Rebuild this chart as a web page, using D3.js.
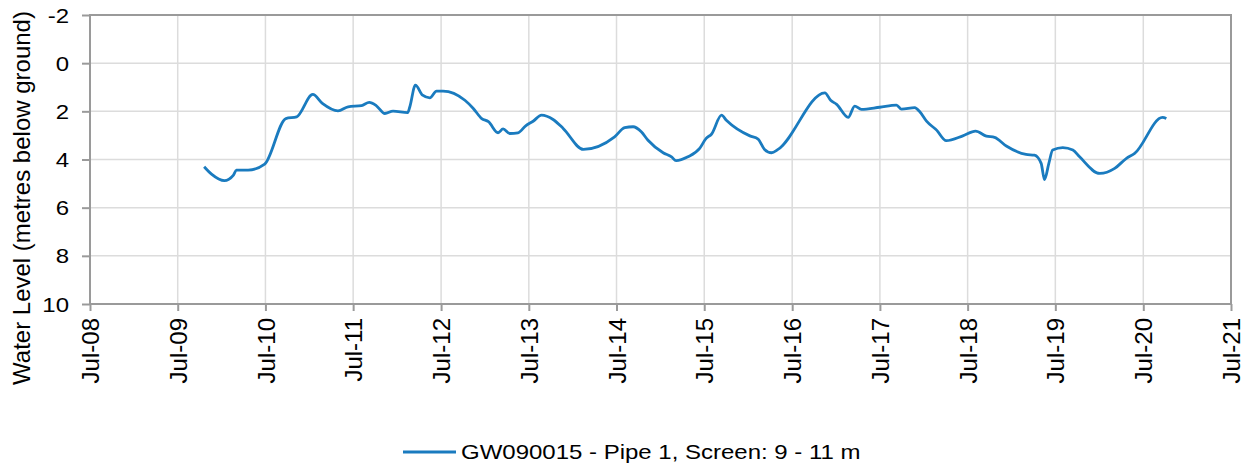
<!DOCTYPE html>
<html>
<head>
<meta charset="utf-8">
<script src="https://cdn.jsdelivr.net/npm/d3@7"></script>
<style>
  body { margin: 0; background: #fff; }
  text { font-family: "Liberation Sans", Arial, sans-serif; fill: #000; }
</style>
</head>
<body>
<div id="chart"></div>
<script>
// readings (date, metres below ground)
var dates = [
  "2009-10-19","2009-11-20","2010-01-11","2010-02-18","2010-03-02","2010-04-20","2010-06-28",
  "2010-09-24","2010-11-08","2011-01-14","2011-02-23","2011-04-29","2011-06-10","2011-08-05",
  "2011-09-06","2011-10-06","2011-11-10","2011-12-14","2012-02-13","2012-02-22","2012-03-16",
  "2012-04-15","2012-05-15","2012-06-12","2012-07-09","2012-10-08","2012-11-12","2012-12-17",
  "2013-01-14","2013-02-23","2013-03-16","2013-04-13","2013-05-17","2013-06-18","2013-07-19",
  "2013-08-23","2013-10-10","2013-11-21","2014-02-13","2014-06-23","2014-08-04","2014-09-08",
  "2014-10-12","2014-11-09","2015-01-11","2015-02-15","2015-03-06","2015-04-24","2015-06-12",
  "2015-07-09","2015-07-31","2015-09-11","2015-10-01","2016-01-07","2016-02-10","2016-03-08",
  "2016-04-06","2016-05-03","2016-11-14","2016-12-08","2017-01-02","2017-02-19","2017-03-18",
  "2017-04-15","2017-06-30","2017-09-08","2017-09-29","2017-11-23","2017-12-14","2018-01-11",
  "2018-02-22","2018-04-03","2018-06-11","2018-08-03","2018-09-17","2018-10-21","2018-12-09",
  "2019-03-01","2019-04-05","2019-05-03","2019-05-17","2019-06-04","2019-06-20","2019-08-01",
  "2019-09-12","2019-10-10","2020-01-02","2020-03-04","2020-04-22","2020-05-26","2020-09-19",
  "2020-10-05"
];
var levels = [
  4.30,4.62,4.88,4.65,4.44,4.44,4.19,
  2.30,2.23,1.30,1.67,1.98,1.81,1.76,
  1.63,1.77,2.09,1.99,2.05,1.81,0.91,
  1.33,1.44,1.16,1.16,1.54,1.88,2.30,
  2.43,2.89,2.73,2.92,2.89,2.60,2.41,
  2.16,2.34,2.71,3.58,3.06,2.68,2.64,
  2.85,3.20,3.72,3.89,4.05,3.89,3.54,
  3.12,2.95,2.16,2.37,3.02,3.15,3.58,
  3.72,3.58,1.23,1.54,1.71,2.25,1.78,
  1.92,1.83,1.74,1.91,1.85,2.02,2.41,
  2.78,3.22,3.02,2.82,3.03,3.08,3.44,
  3.79,3.82,4.16,4.83,4.16,3.61,3.51,
  3.61,3.89,4.58,4.37,3.95,3.75,2.25,
  2.30
];
var yTicks = [-2, 0, 2, 4, 6, 8, 10];
var xTickYears = [2008,2009,2010,2011,2012,2013,2014,2015,2016,2017,2018,2019,2020,2021];
var seriesName = "GW090015 - Pipe 1, Screen: 9 - 11 m";
var yTitle = "Water Level (metres below ground)";

var W = 1256, H = 466;
var plot = {left: 90, right: 1231, top: 15, bottom: 304};
var parse = d3.timeParse("%Y-%m-%d");
var data = dates.map(function(d, i){ return {date: parse(d), v: levels[i]}; });
var xTicks = xTickYears.map(function(y){ return new Date(y, 6, 1); });

var x = d3.scaleTime().domain([xTicks[0], xTicks[xTicks.length-1]]).range([plot.left, plot.right]);
var y = d3.scaleLinear().domain([-2, 10]).range([plot.top, plot.bottom]);

var svg = d3.select("#chart").append("svg").attr("width", W).attr("height", H);

// gridlines
var grid = svg.append("g");
grid.selectAll(".gy").data(yTicks).enter().append("line")
  .attr("x1", plot.left).attr("x2", plot.right)
  .attr("y1", function(d){ return y(d); }).attr("y2", function(d){ return y(d); })
  .style("stroke", "#dcdcdc").style("stroke-width", 1.5);
grid.selectAll(".gx").data(xTicks).enter().append("line")
  .attr("x1", function(d){ return x(d); }).attr("x2", function(d){ return x(d); })
  .attr("y1", plot.top).attr("y2", plot.bottom)
  .style("stroke", "#dcdcdc").style("stroke-width", 1.5);

// frame
svg.append("rect")
  .attr("x", plot.left).attr("y", plot.top)
  .attr("width", plot.right - plot.left).attr("height", plot.bottom - plot.top)
  .style("fill", "none").style("stroke", "#9a9a9a").style("stroke-width", 2);

// y axis
var yAxis = d3.axisLeft(y).tickValues(yTicks).tickSize(8).tickPadding(13)
  .tickFormat(function(d){ return d; });
var ya = svg.append("g").attr("transform", "translate(" + plot.left + ",0)").call(yAxis);
ya.select(".domain").remove();
ya.selectAll(".tick line").style("stroke", "#9a9a9a").style("stroke-width", 2);
ya.selectAll(".tick text")
  .style("font-size", "20px").attr("dy", null).attr("y", 7)
  .attr("font-family", null)
  .attr("x", 0).attr("transform", "translate(-21,0) scale(1.2,1)");

// x axis
var xAxis = d3.axisBottom(x).tickValues(xTicks).tickSize(7)
  .tickFormat(d3.timeFormat("%b-%y"));
var xa = svg.append("g").attr("transform", "translate(0," + plot.bottom + ")").call(xAxis);
xa.select(".domain").remove();
xa.selectAll(".tick line").style("stroke", "#9a9a9a").style("stroke-width", 2);
xa.selectAll(".tick text")
  .attr("font-family", null)
  .style("font-size", "24px")
  .style("text-anchor", "end")
  .attr("transform", "rotate(-90)")
  .attr("x", -14).attr("y", 0).attr("dy", "0.36em");

// y title
svg.append("text")
  .attr("transform", "translate(30,198) rotate(-90)")
  .style("text-anchor", "middle")
  .style("font-size", "24px")
  .text(yTitle);

// series line
var line = d3.line()
  .x(function(d){ return x(d.date); })
  .y(function(d){ return y(d.v); })
  .curve(d3.curveMonotoneX);
svg.append("path").datum(data)
  .attr("d", line)
  .style("fill", "none")
  .style("stroke", "#1a7bbf")
  .style("stroke-width", 2.8)
  .style("stroke-linejoin", "round");

// legend
var lg = svg.append("g").attr("transform", "translate(403,452)");
lg.append("line").attr("x1", 0).attr("x2", 53).attr("y1", 0).attr("y2", 0)
  .style("stroke", "#1a7bbf").style("stroke-width", 2.8);
lg.append("text").attr("transform", "translate(58,7) scale(1.2,1)")
  .style("font-size", "20px")
  .text(seriesName);
</script>
</body>
</html>
